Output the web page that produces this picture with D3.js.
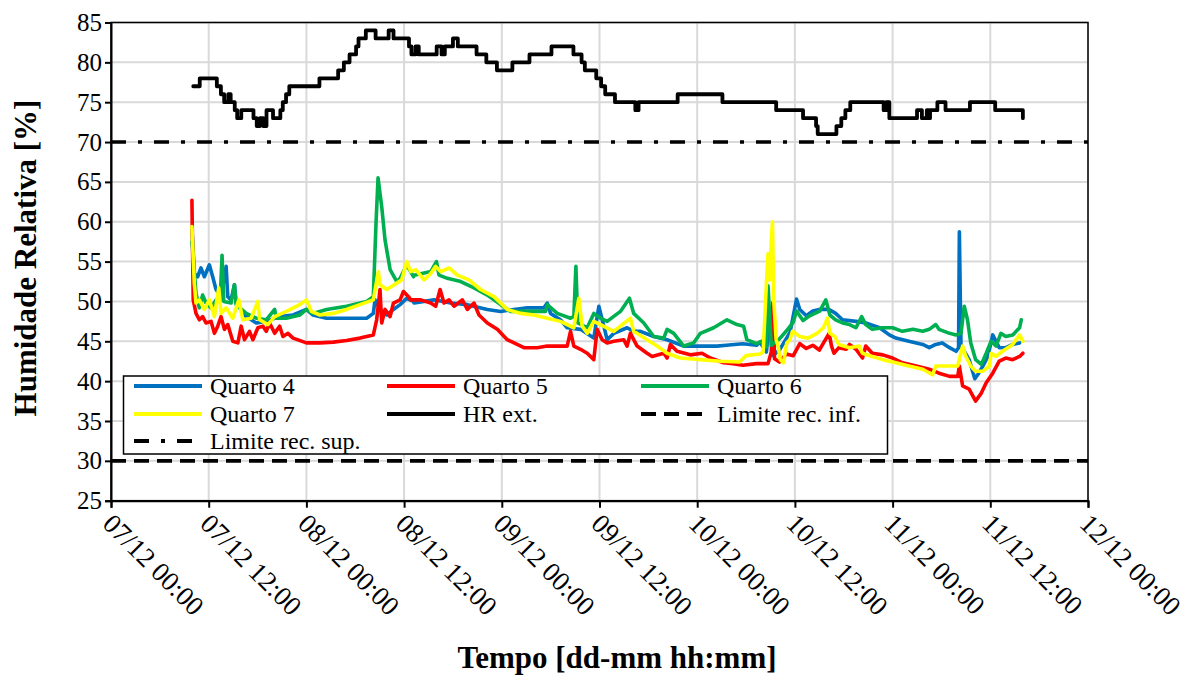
<!DOCTYPE html>
<html><head><meta charset="utf-8">
<script src="https://cdn.jsdelivr.net/npm/d3@7"></script>
<style>body{margin:0;background:#fff}</style>
</head><body>
<svg id="c" width="1187" height="677"></svg>
<script>
// ---------- data ----------
const xTickLabels = ["07/12 00:00","07/12 12:00","08/12 00:00","08/12 12:00","09/12 00:00","09/12 12:00","10/12 00:00","10/12 12:00","11/12 00:00","11/12 12:00","12/12 00:00"];
const yTicks = [25,30,35,40,45,50,55,60,65,70,75,80,85];
const seriesNames = ["Quarto 4","Quarto 5","Quarto 6","Quarto 7","HR ext.","Limite rec. inf.","Limite rec. sup."];
const seriesColors = ["#0070C0","#FF0000","#00B050","#FFFF00","#000000","#000000","#000000"];
const limitInf = 30;
const limitSup = 70;
// [hours since 07/12 00:00, relative humidity %]
const quarto4 = [[9.94,59],[10.03,57.7],[10.23,53.5],[10.64,53.1],[11.05,54.2],[11.47,53.1],[12.08,54.6],[12.49,53.1],[12.9,51.5],[13.52,50.6],[14.14,54.4],[14.34,50.6],[14.75,50.2],[15.16,52.1],[15.37,49.8],[16.6,48.1],[17.84,47.3],[19.07,47.5],[20.71,48.1],[22.36,48.3],[24.0,49.0],[24.82,48.3],[26.47,47.9],[28.93,47.9],[31.4,47.9],[32.22,48.5],[32.43,50.2],[33.04,49.0],[33.87,48.3],[34.69,49.0],[35.51,49.6],[36.33,50.4],[37.15,50.0],[37.23,49.8],[39.68,50.2],[41.72,49.8],[43.77,49.6],[46.22,49.0],[47.86,48.75],[49.49,49.0],[51.13,49.2],[53.17,49.2],[53.58,49.8],[53.99,48.5],[55.2,47.7],[56.03,46.7],[57.67,46.5],[59.3,45.4],[59.92,49.4],[60.53,46.9],[60.94,45.2],[61.76,46.0],[63.39,46.7],[64.2,46.25],[65.03,46.25],[66.66,45.6],[68.3,45.2],[70.34,44.4],[72.39,44.4],[74.43,44.4],[75.57,44.5],[77.6,44.7],[79.3,44.5],[79.7,44.9],[80.5,43.65],[80.9,47.8],[81.3,43.2],[82.1,43.9],[83.4,46.1],[84.2,50.3],[84.6,49.0],[85.4,48.2],[86.2,48.8],[87.0,49.0],[88.2,49.0],[89.0,48.5],[89.85,47.7],[91.5,47.5],[92.7,47.3],[94.4,46.7],[95.6,45.8],[96.4,45.4],[98.0,45.0],[99.7,44.6],[100.5,44.2],[101.3,44.6],[102.1,44.8],[103.0,44.2],[103.8,43.75],[104.1,44.2],[104.2,58.75],[104.4,44.6],[104.8,43.75],[105.4,42.7],[106.1,40.3],[106.45,40.8],[107.1,41.9],[107.7,43.1],[108.3,45.8],[108.7,45.0],[109.1,44.2],[109.9,44.2],[110.75,44.6],[111.6,44.8]];
const quarto5 = [[9.94,62.7],[10.1,50.2],[10.44,48.5],[10.85,47.7],[11.26,48.1],[11.67,47.3],[12.29,47.5],[12.7,46.0],[13.11,46.9],[13.52,48.1],[13.93,46.5],[14.34,47.1],[14.96,45.0],[15.58,44.8],[15.99,46.9],[16.4,45.2],[17.01,46.25],[17.43,45.2],[18.04,46.7],[18.66,46.9],[19.07,46.25],[19.48,47.3],[20.1,46.0],[20.71,46.9],[21.12,45.6],[21.74,46.0],[22.36,45.4],[24.0,44.8],[25.65,44.8],[27.29,44.9],[28.93,45.1],[30.58,45.4],[32.22,45.8],[32.63,47.7],[33.04,51.5],[33.25,47.3],[33.66,49.0],[34.28,48.1],[34.69,49.8],[35.51,50.2],[35.92,51.25],[36.54,50.6],[36.82,50.2],[38.04,50.2],[39.27,49.8],[39.88,49.4],[40.42,51.5],[40.9,49.8],[41.52,50.2],[42.13,49.4],[43.15,50.2],[43.77,49.0],[44.59,49.8],[45.2,48.3],[46.22,47.3],[47.45,46.5],[48.67,45.2],[50.72,44.2],[52.35,44.2],[53.58,44.4],[56.03,44.4],[56.44,46.25],[56.85,44.4],[57.67,44.0],[58.49,43.5],[59.3,42.7],[59.71,46.5],[60.33,45.2],[60.94,44.8],[61.76,45.0],[62.98,45.2],[63.39,44.4],[63.8,46.0],[64.62,44.4],[65.84,43.5],[66.46,43.1],[67.89,43.5],[68.3,42.9],[68.71,44.6],[69.52,43.75],[71.16,43.3],[72.59,43.5],[73.61,42.9],[75.25,42.3],[76.4,42.2],[77.6,42.0],[79.3,42.2],[80.7,42.2],[81.1,43.65],[81.3,49.9],[81.5,42.8],[82.1,42.4],[82.95,43.4],[83.8,43.2],[84.6,44.7],[85.4,44.1],[86.2,44.5],[87.0,43.9],[88.2,46.0],[88.5,44.4],[88.8,43.5],[89.4,44.2],[90.3,44.0],[90.7,44.6],[91.5,44.0],[92.3,42.9],[92.7,44.4],[93.5,43.5],[94.8,43.3],[96.0,42.9],[97.2,42.3],[98.9,41.9],[100.5,41.5],[101.7,41.0],[103.0,40.6],[104.0,40.6],[104.2,41.9],[104.6,39.4],[105.4,39.0],[106.2,37.5],[106.9,38.5],[107.5,39.8],[108.3,41.0],[109.1,42.5],[109.9,42.9],[110.75,42.7],[111.6,43.1],[112.0,43.5]];
const quarto6 = [[9.94,57.5],[10.03,56.5],[10.44,51.0],[10.85,49.2],[11.26,50.8],[11.67,49.8],[12.29,49.2],[12.9,50.2],[13.4,50.0],[13.64,55.8],[13.85,50.0],[14.75,49.8],[15.16,52.1],[15.37,49.6],[16.6,48.5],[17.84,47.9],[19.07,47.7],[20.1,49.0],[20.3,47.9],[21.54,47.9],[23.18,48.3],[24.0,49.0],[24.82,48.5],[26.47,49.0],[28.93,49.4],[31.4,50.0],[32.22,50.6],[32.55,59.8],[32.8,65.5],[33.25,61.9],[33.66,57.7],[34.28,54.0],[35.1,52.5],[35.51,52.9],[36.33,54.6],[37.15,53.1],[37.23,53.3],[39.27,53.75],[39.97,55.0],[40.29,53.3],[41.31,52.9],[42.95,52.5],[44.59,51.7],[46.22,50.8],[47.86,49.6],[49.08,48.75],[51.94,48.75],[53.38,48.75],[53.58,49.6],[54.81,48.5],[56.44,47.9],[56.85,48.1],[57.1,54.4],[57.34,47.3],[58.49,46.7],[59.3,48.5],[60.12,47.9],[60.94,47.5],[62.57,48.75],[63.68,50.4],[64.2,48.5],[65.44,47.3],[66.66,45.6],[67.89,45.4],[68.3,46.5],[69.12,46.0],[70.34,44.4],[71.57,44.8],[72.39,46.0],[74.02,46.7],[75.66,47.7],[76.88,47.1],[77.7,46.9],[78.1,45.2],[79.3,44.7],[80.1,45.1],[80.5,44.3],[80.7,51.95],[81.1,44.5],[82.1,45.3],[83.0,46.35],[83.8,47.4],[84.2,48.8],[85.0,47.6],[85.8,48.2],[87.05,48.8],[87.8,50.2],[88.3,48.3],[89.0,47.7],[89.85,47.3],[90.7,47.1],[91.5,46.7],[92.2,48.1],[92.7,47.1],[93.5,46.5],[94.8,46.7],[96.0,46.7],[97.2,46.25],[98.5,46.5],[99.7,46.25],[100.5,46.5],[101.3,47.1],[101.7,46.5],[103.0,46.0],[103.8,45.8],[104.4,46.0],[104.8,49.4],[105.2,47.7],[105.6,44.8],[106.2,42.7],[106.9,42.1],[107.5,43.5],[108.1,45.0],[108.7,44.4],[109.3,46.0],[109.9,45.6],[110.75,45.8],[111.6,46.7],[111.8,47.7]];
const quarto7 = [[9.94,59.4],[10.23,52.3],[10.44,49.8],[10.85,50.2],[11.47,49.0],[12.08,50.2],[12.7,48.1],[13.23,51.7],[13.52,48.5],[14.14,49.2],[14.96,47.9],[15.7,50.2],[16.19,47.7],[17.22,47.9],[18.04,50.0],[18.25,47.7],[19.27,47.1],[20.1,48.1],[21.54,48.75],[23.18,49.6],[24.0,50.2],[24.62,48.75],[25.65,48.3],[27.29,48.5],[28.93,49.0],[30.58,49.6],[32.22,50.2],[32.84,53.75],[33.04,52.1],[33.87,51.5],[35.1,52.3],[35.7,52.7],[36.33,55.0],[36.82,53.75],[37.43,54.0],[38.45,52.7],[39.27,53.5],[39.88,54.4],[40.5,53.75],[41.52,54.2],[42.54,53.3],[43.97,52.7],[45.4,51.5],[47.04,50.6],[48.67,49.0],[50.3,48.5],[51.94,48.3],[53.58,47.9],[55.2,47.5],[56.85,46.7],[57.46,50.4],[57.87,46.9],[58.49,46.0],[59.3,47.5],[60.12,47.1],[61.76,46.25],[63.8,47.9],[64.2,46.25],[65.84,45.2],[67.07,44.4],[68.3,43.5],[69.93,42.9],[72.39,42.7],[74.84,42.5],[77.2,42.4],[78.0,43.2],[79.7,43.4],[80.1,43.65],[80.5,52.3],[80.7,56.0],[80.9,52.7],[81.1,57.7],[81.25,60.0],[81.4,50.2],[81.7,45.2],[81.95,44.4],[82.2,42.7],[82.6,42.3],[83.0,44.8],[83.4,45.2],[83.7,46.25],[84.6,45.6],[85.6,45.4],[86.7,46.0],[87.5,46.7],[88.0,47.9],[88.3,46.0],[88.9,45.6],[89.4,44.6],[90.7,44.2],[91.9,44.4],[92.3,43.5],[93.5,43.1],[94.8,42.7],[96.4,42.3],[98.0,41.9],[99.7,41.5],[100.9,40.8],[101.3,41.9],[102.6,41.9],[104.0,41.9],[104.6,44.4],[105.0,43.1],[105.6,41.9],[106.2,41.25],[107.1,41.25],[107.9,41.9],[108.1,43.5],[108.7,43.1],[109.5,43.75],[110.75,44.6],[111.6,45.8],[112.0,45.0]];
// outdoor RH, stepped values (value holds until next point)
const hrExt = [[10.1,77],[10.9,78],[13.0,77],[13.5,76],[13.9,75],[14.4,76],[14.7,75],[15.2,74],[15.5,73],[16.0,74],[17.5,73],[17.9,72],[18.3,73],[18.7,72],[19.1,74],[19.9,73],[20.8,74],[21.1,75],[21.5,76],[21.9,77],[25.6,78],[27.9,79],[28.6,80],[29.3,81],[30.1,82],[30.4,83],[31.3,84],[32.5,83],[34.1,84],[34.7,83],[36.6,82],[36.9,81],[37.4,82],[37.8,81],[40.0,82],[40.6,81],[41.0,82],[42.0,83],[42.6,82],[44.9,81],[46.1,80],[47.4,79],[49.3,80],[51.4,81],[54.1,82],[56.8,81],[57.8,80],[58.2,79],[59.6,78],[60.2,77],[60.7,76],[61.9,75],[64.4,74],[64.8,75],[69.6,76],[75.1,75],[81.7,74],[85.0,73],[86.6,72],[86.8,71],[89.1,72],[89.7,73],[90.2,74],[90.8,75],[94.9,74],[95.2,75],[95.6,73],[99.0,74],[99.6,73],[100.2,74],[100.4,73],[100.6,74],[101.5,75],[102.5,74],[105.5,75],[108.6,74],[112.0,73]];

// ---------- layout ----------
const L=111, R=1088, T=22.5, B=500.7;
const FONT = "'Liberation Serif','Times New Roman',serif";
const parseT = d3.timeParse("%d/%m %H:%M");
const t0 = parseT(xTickLabels[0]);
const toDate = h => new Date(t0.getTime() + h*3600000);
const xTickDates = xTickLabels.map(parseT);

const svg = d3.select("#c");
const x = d3.scaleTime().domain([xTickDates[0], xTickDates[xTickDates.length-1]]).range([L,R]);
const y = d3.scaleLinear().domain([25,85]).range([B,T]);

// grid
const grid = svg.append("g").attr("stroke","#d9d9d9").attr("stroke-width",2);
grid.selectAll(".gx").data(xTickDates).join("line")
  .attr("x1",d=>x(d)).attr("x2",d=>x(d)).attr("y1",T).attr("y2",B);
grid.selectAll(".gy").data(yTicks).join("line")
  .attr("x1",L).attr("x2",R).attr("y1",d=>y(d)).attr("y2",d=>y(d));

// limit lines
const dashInf = "15,8";
const dashSup = "15,12,4,12";
svg.append("line").attr("x1",L).attr("x2",R).attr("y1",y(limitInf)).attr("y2",y(limitInf))
  .attr("stroke","#000").attr("stroke-width",3.6).attr("stroke-dasharray",dashInf);
svg.append("line").attr("x1",L).attr("x2",R).attr("y1",y(limitSup)).attr("y2",y(limitSup))
  .attr("stroke","#000").attr("stroke-width",3.6).attr("stroke-dasharray",dashSup);

// series
const line = d3.line().x(d=>x(toDate(d[0]))).y(d=>y(d[1]));
const rooms = [quarto4, quarto5, quarto6, quarto7];
rooms.forEach((data,i)=>{
  svg.append("path").datum(data).attr("d",line).attr("fill","none")
    .attr("stroke",seriesColors[i]).attr("stroke-width",3.6)
    .attr("stroke-linejoin","round").attr("stroke-linecap","round");
});
const stepLine = d3.line().x(d=>x(toDate(d[0]))).y(d=>y(d[1])).curve(d3.curveStepAfter);
svg.append("path").datum(hrExt).attr("d",stepLine).attr("fill","none")
  .attr("stroke",seriesColors[4]).attr("stroke-width",3.8).attr("stroke-linejoin","round").attr("stroke-linecap","round");

// frame
svg.append("rect").attr("x",L).attr("y",T).attr("width",R-L).attr("height",B-T)
  .attr("fill","none").attr("stroke","#000").attr("stroke-width",1.5);

// axes
const yAxis = svg.append("g").attr("transform",`translate(${L},0)`)
  .call(d3.axisLeft(y).tickValues(yTicks).tickSize(6).tickPadding(3).tickFormat(d3.format("d")));
yAxis.selectAll("text").attr("font-family",FONT).attr("font-size",25).attr("fill","#000");
yAxis.selectAll("line,path").attr("stroke","#000").attr("stroke-width",2);

const xAxis = svg.append("g").attr("transform",`translate(0,${B})`)
  .call(d3.axisBottom(x).tickValues(xTickDates).tickSize(7).tickFormat((d,i)=>xTickLabels[i]));
xAxis.selectAll("line,path").attr("stroke","#000").attr("stroke-width",2);
xAxis.selectAll("text").attr("font-family",FONT).attr("font-size",27).attr("fill","#000")
  .attr("text-anchor","start").attr("x",10).attr("y",16).attr("dy","0.32em")
  .attr("transform","rotate(45)");

// axis titles
svg.append("text").attr("x",617).attr("y",668).attr("text-anchor","middle")
  .attr("font-family",FONT).attr("font-weight","bold").attr("font-size",31).text("Tempo [dd-mm hh:mm]");
svg.append("text").attr("transform","translate(36,258) rotate(-90)").attr("text-anchor","middle")
  .attr("font-family",FONT).attr("font-weight","bold").attr("font-size",31).text("Humidade Relativa [%]");

// legend
const lg = svg.append("g");
lg.append("rect").attr("x",123.5).attr("y",376).attr("width",764).attr("height",78)
  .attr("fill","#fff").attr("stroke","#000").attr("stroke-width",1.5);
const colX = [134, 387, 641];
const rowY = [386, 414, 441];
const dashes = [null,null,null,null,null,dashInf,dashSup];
seriesNames.forEach((name,i)=>{
  const cx = colX[i%3], cy = rowY[Math.floor(i/3)];
  lg.append("line").attr("x1",cx).attr("x2",cx+68).attr("y1",cy).attr("y2",cy)
    .attr("stroke",seriesColors[i]).attr("stroke-width",3.8)
    .attr("stroke-dasharray",dashes[i]);
  lg.append("text").attr("x",cx+76).attr("y",cy).attr("dy","0.33em")
    .attr("font-family",FONT).attr("font-size",24).attr("fill","#000").text(name);
});
</script>
</body></html>
